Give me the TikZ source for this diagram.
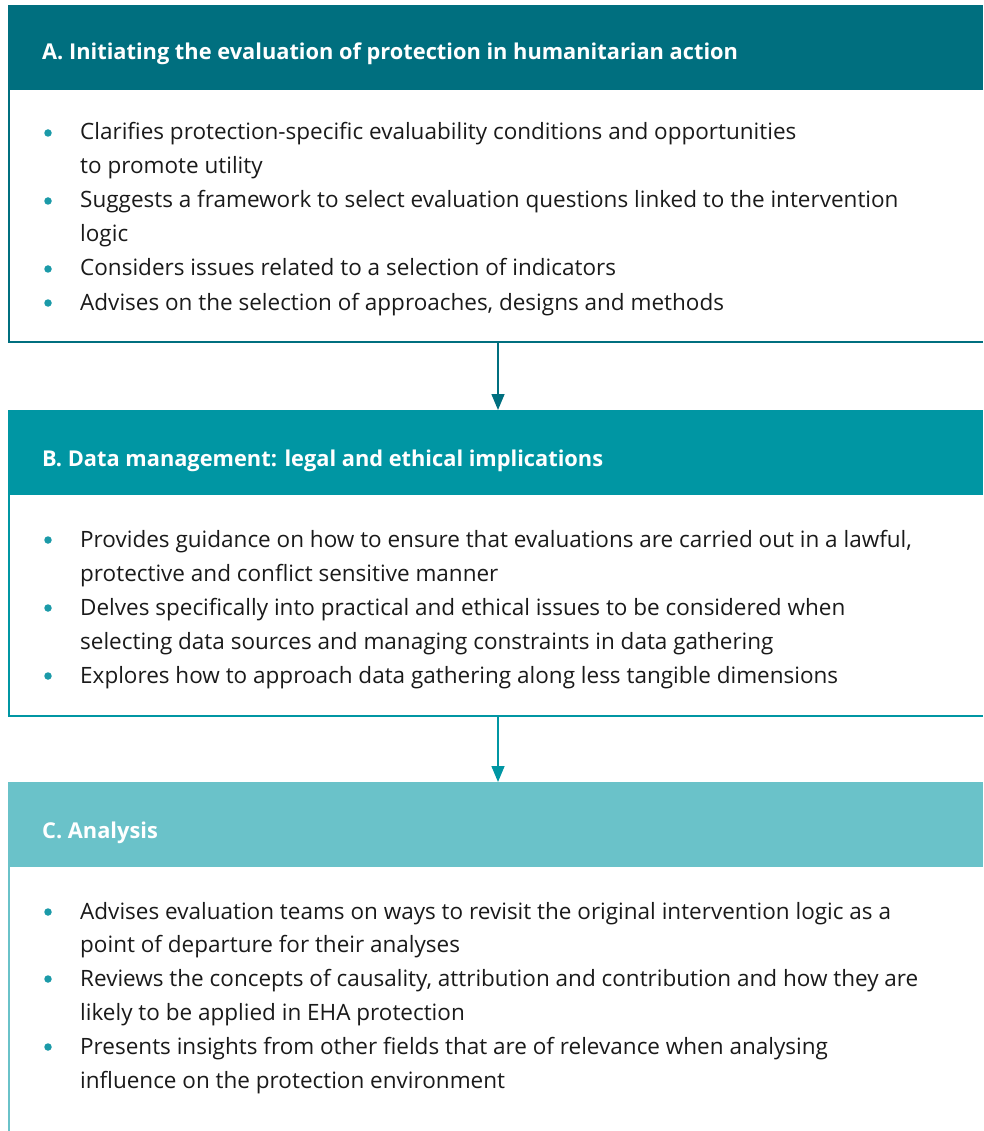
\documentclass[tikz,border=0pt]{standalone}
\usepackage{fontspec}
\setmainfont{Open Sans}
\usetikzlibrary{arrows.meta}
\definecolor{tealA}{HTML}{006F7F}
\definecolor{tealB}{HTML}{0096A3}
\definecolor{tealC}{HTML}{6AC2C9}
\definecolor{dotc}{HTML}{1B9AA8}
\definecolor{txt}{HTML}{1A1A1A}
\tikzset{
  hdr/.style={anchor=north west, inner sep=0pt, minimum width=975pt, minimum height=85pt, draw=none},
  title/.style={anchor=base west, inner sep=0pt, text=white, font=\fontsize{21.8}{26}\selectfont\bfseries},
  line/.style={anchor=base west, inner sep=0pt, text=txt, font=\fontsize{22.5}{26}\selectfont},
  dot/.style={circle, fill=dotc, inner sep=0pt, minimum size=7.5pt},
  frame/.style={line width=1.5pt},
  link/.style={line width=1.5pt, -{Triangle[length=16pt, width=13pt]}}
}
\begin{document}
\begin{tikzpicture}[x=1pt, y=-1pt]
\useasboundingbox (0,0) rectangle (983,1131);

% ---- Section A ----
\node[hdr, fill=tealA] (hA) at (8,5) {};
\node[title] (tA) at (42,60) {A. Initiating the evaluation of protection in humanitarian action};
\coordinate (aBL) at (9,342);
\coordinate (aBR) at (983,342);
\draw[frame, tealA] (hA.south west) ++(1,0) -- (aBL) -- (aBR);
\node[dot] (dA1) at (48,133) {};
\node[line] (lA1) at (80,140) {Clarifies protection-specific evaluability conditions and opportunities};
\node[line] (lA2) at (80,174) {to promote utility};
\node[dot] (dA2) at (48,201) {};
\node[line] (lA3) at (80,208) {Suggests a framework to select evaluation questions linked to the intervention};
\node[line] (lA4) at (80,242) {logic};
\node[dot] (dA3) at (48,269) {};
\node[line] (lA5) at (80,276) {Considers issues related to a selection of indicators};
\node[dot] (dA4) at (48,303) {};
\node[line] (lA6) at (80,310) {Advises on the selection of approaches, designs and methods};

% ---- Section B ----
\node[hdr, fill=tealB] (hB) at (8,410) {};
\node[title] (tB) at (42,466) {B. Data management: legal and ethical implications};
\coordinate (bBL) at (9,716);
\coordinate (bBR) at (983,716);
\draw[frame, tealB] (hB.south west) ++(1,0) -- (bBL) -- (bBR);
\node[dot] (dB1) at (48,540) {};
\node[line] (lB1) at (80,547) {Provides guidance on how to ensure that evaluations are carried out in a lawful,};
\node[line] (lB2) at (80,581) {protective and conflict sensitive manner};
\node[dot] (dB2) at (48,608) {};
\node[line] (lB3) at (80,615) {Delves specifically into practical and ethical issues to be considered when};
\node[line] (lB4) at (80,649) {selecting data sources and managing constraints in data gathering};
\node[dot] (dB3) at (48,676) {};
\node[line] (lB5) at (80,683) {Explores how to approach data gathering along less tangible dimensions};

% ---- Section C ----
\node[hdr, fill=tealC] (hC) at (8,782) {};
\node[title] (tC) at (42,838) {C. Analysis};
\coordinate (cBL) at (9,1131);
\draw[frame, tealC] (hC.south west) ++(1,0) -- (cBL);
\node[dot] (dC1) at (48,912) {};
\node[line] (lC1) at (80,919) {Advises evaluation teams on ways to revisit the original intervention logic as a};
\node[line] (lC2) at (80,952) {point of departure for their analyses};
\node[dot] (dC2) at (48,979) {};
\node[line] (lC3) at (80,986) {Reviews the concepts of causality, attribution and contribution and how they are};
\node[line] (lC4) at (80,1020) {likely to be applied in EHA protection};
\node[dot] (dC3) at (48,1047) {};
\node[line] (lC5) at (80,1054) {Presents insights from other fields that are of relevance when analysing};
\node[line] (lC6) at (80,1088) {influence on the protection environment};

% ---- connectors ----
\coordinate (aOut) at (498,342);
\coordinate (bOut) at (498,716);
\draw[link, tealA] (aOut) -- (aOut |- hB.north);
\draw[link, tealB] (bOut) -- (bOut |- hC.north);
\end{tikzpicture}
\end{document}
